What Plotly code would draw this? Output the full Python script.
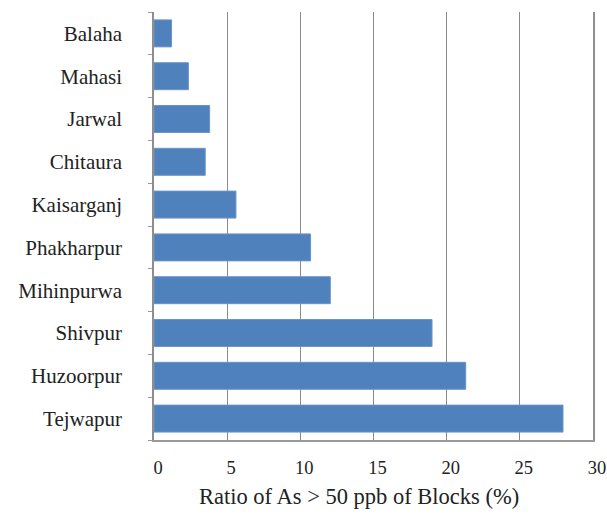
import plotly.graph_objects as go

blocks = ["Balaha", "Mahasi", "Jarwal", "Chitaura", "Kaisarganj",
          "Phakharpur", "Mihinpurwa", "Shivpur", "Huzoorpur", "Tejwapur"]
ratio = [1.2, 2.35, 3.8, 3.5, 5.6, 10.7, 12.05, 19.0, 21.3, 27.95]
x_ticks = [0, 5, 10, 15, 20, 25, 30]
x_title = "Ratio of As > 50 ppb of Blocks (%)"

fig = go.Figure(go.Bar(
    x=ratio, y=blocks, orientation="h",
    marker=dict(color="#4f81bd", line=dict(color="#6a94c8", width=1)),
    width=0.63,
))

serif = "Liberation Serif"
W, H = 607, 531
L, R, T, B = 154, 14, 12, 91
fig.update_layout(
    width=W, height=H,
    margin=dict(l=L, r=R, t=T, b=B),
    paper_bgcolor="white", plot_bgcolor="white",
    showlegend=False,
    font=dict(family=serif, color="#222222"),
    xaxis=dict(
        range=[0, 30], tickvals=x_ticks, ticktext=[str(v) for v in x_ticks],
        showgrid=True, gridcolor="#8a8a8a", gridwidth=1.3,
        showline=True, linecolor="#9a9a9a", linewidth=2,
        zeroline=False, ticks="", ticklabelstandoff=10, ticklabelshift=4,
        ticklabeloverflow="allow",
        tickfont=dict(family=serif, size=18.5, color="#222222"),
        automargin=False,
        fixedrange=True,
    ),
    yaxis=dict(
        categoryorder="array", categoryarray=blocks[::-1],
        showgrid=False, showline=True, linecolor="#8e8e8e", linewidth=1.5,
        mirror=True,
        ticks="outside", tickson="boundaries", ticklen=4, tickcolor="#9a9a9a",
        ticklabelstandoff=26,
        tickfont=dict(family=serif, size=21, color="#222222"),
        automargin=False,
        fixedrange=True,
    ),
    annotations=[dict(
        text=x_title, xref="paper", yref="paper",
        x=(359 - L) / (W - L - R), y=-(497 - (H - B)) / (H - T - B),
        xanchor="center", yanchor="middle", showarrow=False,
        font=dict(family=serif, size=22.5, color="#222222"),
    )],
)

fig.write_html("out.html", config={"displayModeBar": False},
               post_script="document.body.style.margin='0';")
